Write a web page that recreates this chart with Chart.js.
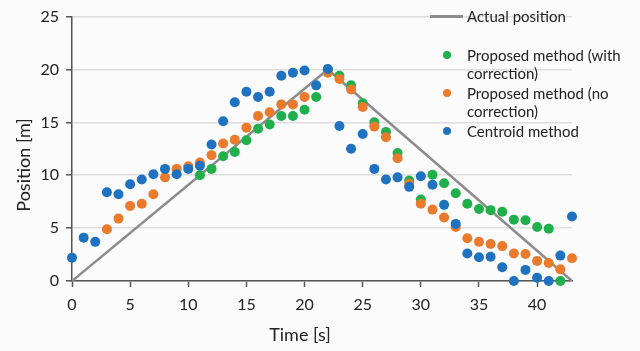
<!DOCTYPE html>
<html>
<head>
<meta charset="utf-8">
<script src="https://cdn.jsdelivr.net/npm/chart.js@4.4.1/dist/chart.umd.min.js"></script>
<style>
  html, body { margin: 0; padding: 0; background: #fbfbfc; }
  #wrap { position: relative; width: 640px; height: 351px; }
  #legend { position: absolute; left: 0; top: 0; font-family: Lato, sans-serif; font-size: 15px; color: #222; }
  .item { position: absolute; white-space: nowrap; line-height: 18px; }
</style>
</head>
<body>
<div id="wrap">
  <canvas id="chart" width="640" height="351"></canvas>
  <div id="legend"></div>
</div>
<script>
// time in seconds
var times = [0,1,2,3,4,5,6,7,8,9,10,11,12,13,14,15,16,17,18,19,20,21,22,23,24,25,26,27,28,29,30,31,32,33,34,35,36,37,38,39,40,41,42,43];

// actual trajectory corners
var actualTimes = [0, 22, 43];
var actualPos = [0, 20, 0];

var withCorrection = [null,null,null,null,null,null,null,null,null,null,null,
  10.0,10.6,11.8,12.2,13.3,14.4,14.8,15.6,15.6,16.2,17.4,20.0,19.4,18.5,16.8,15.0,14.1,12.1,9.5,
  7.7,10.05,9.25,8.3,7.3,6.8,6.7,6.55,5.8,5.75,5.1,4.95,0.0,null];

var noCorrection = [null,null,null,4.9,5.9,7.1,7.3,8.2,9.8,10.6,10.85,
  11.2,11.9,13.0,13.35,14.5,15.6,15.95,16.7,16.7,17.4,null,19.7,19.1,18.1,16.45,14.6,13.6,11.6,9.2,
  7.3,6.75,6.0,5.1,4.05,3.7,3.5,3.3,2.6,2.55,1.9,1.7,1.1,2.15];

var centroid = [2.2,4.1,3.7,8.4,8.2,9.15,9.6,10.1,10.6,10.1,10.6,
  10.9,12.9,15.1,16.9,17.9,17.4,17.9,19.4,19.7,19.9,18.5,20.05,14.65,12.5,13.9,10.6,9.6,9.8,8.9,
  9.9,9.1,7.2,5.4,2.6,2.25,2.3,1.3,0.0,1.05,0.3,0.0,2.4,6.1];

var xTicks = [0, 5, 10, 15, 20, 25, 30, 35, 40];
var yTicks = [0, 5, 10, 15, 20, 25];
var xTitle = 'Time [s]';
var yTitle = 'Position [m]';

var seriesNames = ['Actual position', 'Proposed method (with correction)', 'Proposed method (no correction)', 'Centroid method'];
var legendLines = [['Actual position'], ['Proposed method (with', 'correction)'], ['Proposed method (no', 'correction)'], ['Centroid method']];
var colors = ['#8c8c8c', '#1fb04c', '#ea7a2c', '#1e72c0'];

function toPoints(xs, ys) {
  var pts = [];
  for (var i = 0; i < xs.length; i++) {
    if (ys[i] !== null) pts.push({ x: xs[i], y: ys[i] });
  }
  return pts;
}

function dotSet(idx, values, order) {
  return {
    label: seriesNames[idx],
    data: toPoints(times, values),
    showLine: false,
    pointRadius: 5,
    pointBackgroundColor: colors[idx],
    pointBorderWidth: 0,
    order: order,
    clip: false
  };
}

var font = { family: 'Lato, sans-serif', size: 16 };

// axis titles sit a bit off-centre in the original, so place them by hand
var axisTitles = {
  id: 'axisTitles',
  afterDraw: function (c) {
    var ctx = c.ctx;
    ctx.save();
    ctx.fillStyle = '#222';
    ctx.font = '18px Lato, sans-serif';
    ctx.textAlign = 'center';
    ctx.textBaseline = 'middle';
    ctx.fillText(xTitle, 300, 335);
    ctx.translate(24, 165);
    ctx.rotate(-Math.PI / 2);
    ctx.fillText(yTitle, 0, 0);
    ctx.restore();
  }
};

var chart = new Chart(document.getElementById('chart').getContext('2d'), {
  type: 'scatter',
  data: {
    datasets: [
      {
        label: seriesNames[0],
        data: toPoints(actualTimes, actualPos),
        showLine: true,
        borderColor: colors[0],
        borderWidth: 2.5,
        pointRadius: 0,
        order: 3
      },
      dotSet(1, withCorrection, 2),
      dotSet(2, noCorrection, 1),
      dotSet(3, centroid, 0)
    ]
  },
  options: {
    responsive: false,
    animation: false,
    layout: { padding: { top: 12, right: 68, left: 0, bottom: 0 } },
    plugins: { legend: { display: false }, tooltip: { enabled: false } },
    scales: {
      x: {
        type: 'linear',
        min: 0,
        max: 43,
        afterBuildTicks: function (s) { s.ticks = xTicks.map(function (v) { return { value: v }; }); },
        afterFit: function (s) { s.height = 70; },
        grid: { drawOnChartArea: false, tickLength: 6, tickColor: '#555', tickWidth: 1.5 },
        border: { color: '#555', width: 1.5 },
        ticks: { color: '#222', font: font, padding: 8, maxRotation: 0 }
      },
      y: {
        min: 0,
        max: 25,
        afterBuildTicks: function (s) { s.ticks = yTicks.map(function (v) { return { value: v }; }); },
        afterFit: function (s) { s.width = 72; },
        grid: { color: '#dedede', lineWidth: 1.5, tickLength: 6, tickColor: '#555', tickWidth: 1.5 },
        border: { color: '#555', width: 1.5 },
        ticks: { color: '#222', font: font, padding: 7 }
      }
    }
  },
  plugins: [axisTitles]
});

// legend drawn as html text over the canvas
var legendY = [16, 55, 93, 131];
var legend = document.getElementById('legend');
for (var i = 0; i < legendLines.length; i++) {
  var item = document.createElement('div');
  item.className = 'item';
  item.style.left = '467px';
  item.style.top = (legendY[i] - 9) + 'px';
  item.innerHTML = legendLines[i].join('<br>');
  legend.appendChild(item);

  var mark = document.createElement('div');
  mark.style.position = 'absolute';
  if (i === 0) {
    mark.style.left = '430px';
    mark.style.top = (legendY[i] - 1) + 'px';
    mark.style.width = '33px';
    mark.style.height = '2.5px';
  } else {
    mark.style.left = '443px';
    mark.style.top = (legendY[i] - 4) + 'px';
    mark.style.width = '8px';
    mark.style.height = '8px';
    mark.style.borderRadius = '50%';
  }
  mark.style.background = colors[i];
  legend.appendChild(mark);
}
</script>
</body>
</html>
